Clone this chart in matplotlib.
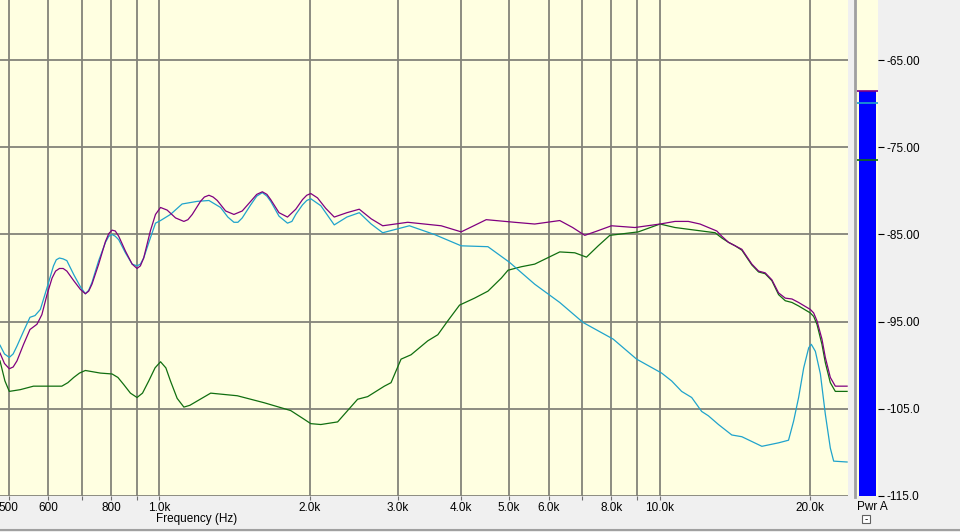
import matplotlib
matplotlib.use("Agg")
import matplotlib.pyplot as plt
import numpy as np
from matplotlib.lines import Line2D
from matplotlib.patches import Rectangle

plt.rcParams['font.family'] = ['Liberation Sans', 'DejaVu Sans']

# (frequency Hz, level dB)
combined = [
    (480, -98.6), (490, -99.8), (501, -100.4), (510, -100.2), (519, -99.5), (535, -97.6), (551, -95.9),
    (569, -95.3), (582, -94.2), (596, -91.9), (610, -90.0), (620, -89.2), (631, -88.9), (642, -88.9),
    (653, -89.2), (674, -90.3), (695, -91.3), (711, -91.8), (722, -91.5), (733, -90.7), (756, -88.4),
    (780, -85.8), (792, -84.9), (804, -84.5), (816, -84.6), (829, -85.2), (855, -86.9), (882, -88.4),
    (902, -88.9), (916, -88.6), (930, -87.7), (959, -84.6), (982, -82.7), (1005, -81.9), (1036, -82.2),
    (1077, -83.1), (1119, -83.5), (1140, -83.3), (1163, -82.7), (1208, -81.2), (1230, -80.7), (1256, -80.5),
    (1280, -80.7), (1305, -81.1), (1356, -82.3), (1409, -82.7), (1464, -82.3), (1522, -81.2), (1565, -80.4),
    (1606, -80.1), (1640, -80.4), (1669, -81.0), (1734, -82.5), (1803, -83.0), (1873, -82.1), (1932, -81.0),
    (1970, -80.5), (2007, -80.3), (2070, -80.8), (2150, -82.0), (2236, -83.0), (2370, -82.5), (2509, -82.1),
    (2650, -83.2), (2795, -84.0), (3136, -83.6), (3658, -84.0), (4011, -84.7), (4250, -84.0), (4501, -83.3),
    (5130, -83.6), (5626, -83.8), (6314, -83.4), (6700, -84.2), (7085, -85.1), (7500, -84.6), (8011, -84.0),
    (8925, -84.2), (10016, -83.8), (10733, -83.5), (11411, -83.5), (12044, -83.8), (12516, -84.2),
    (13010, -84.6), (13313, -85.2), (13730, -85.9), (14157, -86.3), (14601, -86.7), (15290, -88.4),
    (15770, -89.2), (16255, -89.4), (16764, -90.2), (17290, -91.7), (17830, -92.3), (18390, -92.4),
    (18960, -92.8), (20010, -93.6), (20320, -94.0), (20630, -94.9), (21110, -97.0), (21440, -99.1),
    (21940, -101.4), (22450, -102.4), (23700, -102.4),
]

woofer = [
    (480, -97.7), (490, -98.7), (501, -99.1), (510, -98.7), (519, -97.8), (535, -96.1), (551, -94.5),
    (564, -94.3), (578, -93.6), (596, -91.1), (614, -88.6), (622, -87.9), (631, -87.7), (642, -87.8),
    (653, -88.0), (674, -89.6), (695, -91.0), (711, -91.8), (722, -91.4), (733, -90.5), (756, -88.0),
    (780, -85.9), (792, -85.2), (804, -85.0), (816, -85.2), (829, -85.6), (855, -87.1), (882, -88.4),
    (902, -88.6), (916, -88.4), (930, -87.7), (959, -85.4), (982, -83.7), (1005, -83.4), (1052, -82.7),
    (1110, -81.5), (1190, -81.2), (1256, -81.1), (1325, -81.9), (1370, -83.0), (1409, -83.6), (1435, -83.6),
    (1464, -83.1), (1522, -81.6), (1565, -80.6), (1606, -80.2), (1640, -80.6), (1669, -81.2), (1734, -82.9),
    (1803, -83.7), (1840, -83.5), (1873, -82.7), (1932, -81.6), (1970, -81.1), (2007, -80.9), (2102, -81.7),
    (2236, -83.9), (2370, -83.0), (2509, -82.5), (2650, -83.8), (2795, -84.8), (3160, -84.0), (3546, -85.0),
    (4011, -86.3), (4537, -86.4), (5012, -88.2), (5626, -90.7), (6314, -92.8), (7032, -95.1), (8074, -97.0),
    (8994, -99.3), (10093, -100.9), (10568, -101.8), (11066, -103.0), (11590, -103.7), (12135, -105.3),
    (12516, -105.8), (13110, -106.8), (13940, -108.0), (14601, -108.2), (16010, -109.3), (17290, -108.9),
    (18100, -108.6), (18530, -106.4), (18960, -103.7), (19410, -100.3), (19860, -98.0), (20100, -97.6),
    (20480, -98.4), (20960, -101.0), (21440, -105.6), (21940, -109.5), (22280, -111.0), (23700, -111.1),
]

tweeter = [
    (480, -99.5), (491, -101.8), (501, -103.0), (527, -102.8), (560, -102.4), (638, -102.4),
    (656, -102.0), (674, -101.4), (692, -100.9), (711, -100.6), (762, -100.9), (804, -101.0), (826, -101.4),
    (848, -102.2), (875, -103.2), (902, -103.7), (925, -103.2), (952, -101.8), (980, -100.3), (1005, -99.6),
    (1030, -100.3), (1052, -101.8), (1085, -103.8), (1119, -104.8), (1150, -104.6), (1190, -104.1),
    (1266, -103.2), (1431, -103.5), (1619, -104.3), (1830, -105.2), (1947, -106.2), (2007, -106.7),
    (2102, -106.8), (2271, -106.5), (2490, -103.9), (2608, -103.6), (2816, -102.4), (2904, -102.0),
    (3041, -99.3), (3184, -98.8), (3439, -97.2), (3602, -96.5), (3772, -94.9), (3981, -93.1), (4266, -92.3),
    (4537, -91.5), (4825, -90.0), (4976, -89.1), (5290, -88.7), (5626, -88.4), (6314, -87.0),
    (6767, -87.1), (7140, -87.6), (7537, -86.3), (7950, -85.1), (9065, -84.7), (10016, -83.8),
    (10733, -84.2), (11411, -84.4), (12135, -84.6), (12910, -84.8), (13313, -85.4), (13730, -85.9),
    (14157, -86.3), (14601, -86.8), (15290, -88.5), (15770, -89.3), (16255, -89.5), (16764, -90.3),
    (17290, -91.9), (17830, -92.6), (18390, -92.8), (18960, -93.2), (20010, -94.0), (20320, -94.4),
    (20630, -95.3), (21110, -97.6), (21440, -99.7), (21940, -102.0), (22450, -103.0), (23700, -103.0),
]

freq_ticks = [500, 600, 700, 800, 900, 1000, 2000, 3000, 4000, 5000, 6000, 7000, 8000, 9000, 10000, 20000]
freq_labels = ['500', '600', '', '800', '', '1.0k', '2.0k', '3.0k', '4.0k', '5.0k', '6.0k', '', '8.0k', '', '10.0k', '20.0k']
level_ticks = [-65, -75, -85, -95, -105, -115]
level_labels = ['-65.00', '-75.00', '-85.00', '-95.00', '-105.0', '-115.0']

meter_level = -68.5
meter_marks = [-68.5, -69.9, -76.4]

colors = ['#800080', '#1fa3cc', '#106e10']
YMIN, YMAX = -115.0, -58.1

W, H = 960, 532
fig = plt.figure(figsize=(9.6, 5.32), dpi=100, facecolor='#f0f0f0')

def box(x0, y0, x1, y1):
    return [x0 / W, 1 - y1 / H, (x1 - x0) / W, (y1 - y0) / H]

# main response plot
ax = fig.add_axes(box(0, 0, 848, 496))
ax.set_facecolor('#ffffe1')
ax.set_xscale('log')
ax.set_xlim(480, 23800)
ax.set_ylim(YMIN, YMAX)

for data, c in zip([tweeter, woofer, combined], [colors[2], colors[1], colors[0]]):
    f, lv = np.array(data).T
    ax.plot(f, lv, color=c, lw=0.9, zorder=3)

ax.set_xticks(freq_ticks)
ax.set_xticklabels(freq_labels)
ax.set_xticks([], minor=True)
ax.set_yticks(level_ticks)
ax.tick_params(axis='x', length=3, pad=1, labelsize=8.5, color='#707070')
ax.tick_params(axis='y', length=0, labelleft=False)
ax.grid(True, color='#838379', lw=1.3, zorder=1)
for s in ax.spines.values():
    s.set_visible(False)

fig.text(197 / W, 1 - 519 / H, 'Frequency (Hz)', ha='center', va='center', fontsize=8.5)

# level meter on the right
mx = fig.add_axes(box(857, 0, 878, 496))
mx.set_facecolor('#ffffe1')
mx.set_xlim(0, 1)
mx.set_ylim(YMIN, YMAX)
mx.bar(0.5, meter_level - YMIN, bottom=YMIN, width=17 / 21, color='#0000ff', zorder=2)
for m, c in zip(meter_marks, colors):
    mx.plot([0, 1], [m, m], color=c, lw=1.2, zorder=3)
mx.set_xticks([])
mx.yaxis.tick_right()
mx.set_yticks(level_ticks)
mx.set_yticklabels(level_labels)
mx.tick_params(axis='y', length=4, pad=2, labelsize=8.5, color='black')
for s in mx.spines.values():
    s.set_visible(False)

fig.add_artist(Line2D([855 / W, 855 / W], [1, 1 - 497 / H], color='#a0a0a0', lw=2))
fig.add_artist(Line2D([0, 1], [1 - 530 / H, 1 - 530 / H], color='#a0a0a0', lw=1.5))

fig.text(857 / W, 1 - 507 / H, 'Pwr A', ha='left', va='center', fontsize=8.5)
fig.add_artist(Rectangle((862 / W, 1 - 523 / H), 8 / W, 8 / H, transform=fig.transFigure,
                         facecolor='white', edgecolor='#606060', lw=0.8))
fig.text(866 / W, 1 - 519 / H, '-', ha='center', va='center', fontsize=7)

fig.savefig('out.png', dpi=100, facecolor=fig.get_facecolor())
